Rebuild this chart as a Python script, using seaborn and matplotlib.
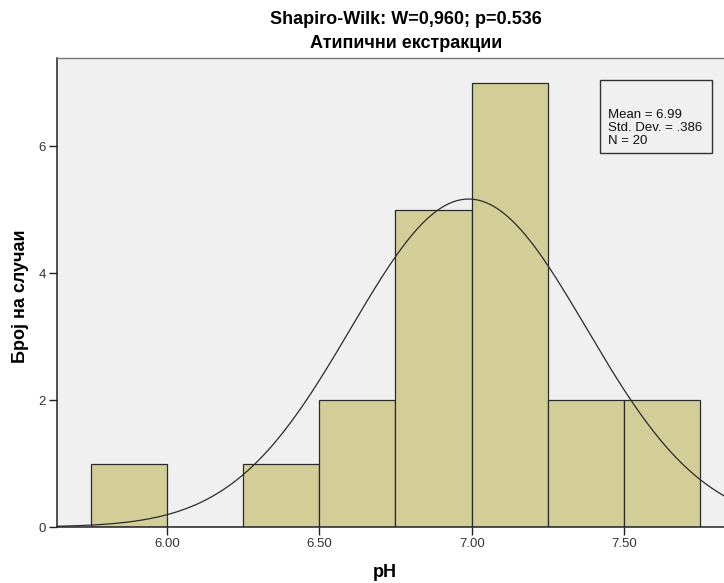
import numpy as np
import pandas as pd
import matplotlib
matplotlib.use("Agg")
import matplotlib.pyplot as plt
from matplotlib.patches import Rectangle
import seaborn as sns

# pH histogram: bin edges and case counts per bin
bin_edges = [5.75, 6.00, 6.25, 6.50, 6.75, 7.00, 7.25, 7.50, 7.75]
bin_counts = [1, 0, 1, 2, 5, 7, 2, 2]
x_ticks = [6.00, 6.50, 7.00, 7.50]
x_tick_labels = ["6.00", "6.50", "7.00", "7.50"]
y_ticks = [0, 2, 4, 6]

mean_ph = 6.99
sd_ph = 0.386
n_cases = 20

title_lines = ["Shapiro-Wilk: W=0,960; p=0.536", "Атипични екстракции"]
x_label = "pH"
y_label = "Број на случаи"

sns.set_theme(style="white")
plt.rcParams["font.family"] = ["Liberation Sans", "DejaVu Sans"]
plt.rcParams["text.color"] = "#000000"
plt.rcParams["axes.labelcolor"] = "#000000"

centers = [(a + b) / 2 for a, b in zip(bin_edges[:-1], bin_edges[1:])]
df = pd.DataFrame({"pH": centers, "count": bin_counts})

fig = plt.figure(figsize=(7.24, 5.83), dpi=100)
ax = fig.add_axes([57 / 724, 1 - 527 / 583, (737 - 57) / 724, (527 - 58) / 583])
ax.set_facecolor("#F0F0F0")

sns.histplot(data=df, x="pH", weights="count", bins=bin_edges, ax=ax,
             color="#D3CE98", alpha=1, edgecolor="#2b2b2b", linewidth=0.9)

# fitted normal curve scaled to counts per bin
bw = bin_edges[1] - bin_edges[0]
xs = np.linspace(5.64, 7.87, 400)
ys = n_cases * bw / (sd_ph * np.sqrt(2 * np.pi)) * np.exp(-0.5 * ((xs - mean_ph) / sd_ph) ** 2)
sns.lineplot(x=xs, y=ys, ax=ax, color="#2a2a2a", linewidth=0.9)

ax.set_xlim(5.64, 7.87)
ax.set_ylim(0, 7.39)
ax.set_xticks(x_ticks)
ax.set_xticklabels(x_tick_labels)
ax.set_yticks(y_ticks)
ax.tick_params(axis="both", direction="out", length=6, width=1, color="#222222",
               labelsize=9.5, labelcolor="#333333", bottom=True, left=True, pad=2)

for side in ["left", "bottom"]:
    ax.spines[side].set_color("#222222")
    ax.spines[side].set_linewidth(1.1)
for side in ["top", "right"]:
    ax.spines[side].set_color("#7a7a7a")
    ax.spines[side].set_linewidth(1.0)

ax.set_xlabel(x_label, fontsize=13, fontweight="bold")
ax.xaxis.set_label_coords(0.482, -0.098)
ax.xaxis.label.set_va("center")
ax.set_ylabel(y_label, fontsize=13, fontweight="bold")
ax.yaxis.set_label_coords(-0.054, 0.4925)
ax.yaxis.label.set_va("center")

fig.text(406 / 724, 1 - 19 / 583, title_lines[0], ha="center", va="center",
         fontsize=13, fontweight="bold")
fig.text(406 / 724, 1 - 44 / 583, title_lines[1], ha="center", va="center",
         fontsize=13, fontweight="bold")

# summary statistics box
ax.add_patch(Rectangle((0.7985, 0.7974), 0.1647, 0.1557, transform=ax.transAxes,
                       facecolor="#F0F0F0", edgecolor="#333333", linewidth=1.0,
                       zorder=5))
stats_text = f"Mean = {mean_ph:.2f}\nStd. Dev. = {str(sd_ph).lstrip('0')}\nN = {n_cases}"
ax.text(0.810, 0.851, stats_text, transform=ax.transAxes, ha="left", va="center",
        fontsize=9.5, linespacing=1.1, color="#111111", zorder=6)

fig.savefig("out.png", dpi=100)
